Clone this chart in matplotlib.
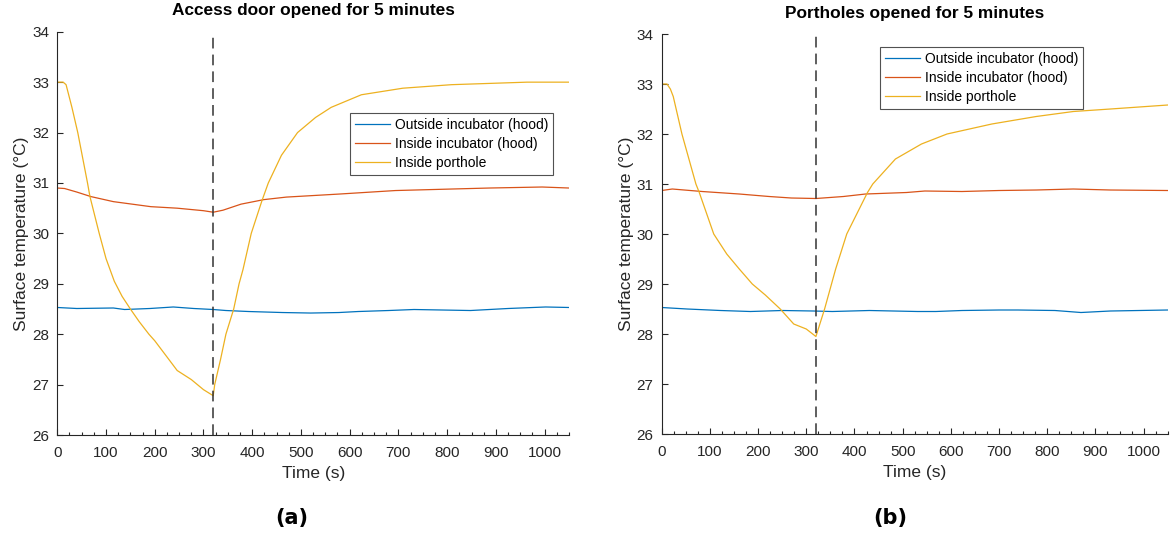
import matplotlib
matplotlib.use("Agg")
import matplotlib.pyplot as plt
from matplotlib.ticker import MultipleLocator

plt.rcParams["font.family"] = ["Liberation Sans", "DejaVu Sans"]

# ---- Panel (a): access door opened for 5 minutes ----
t_out_a = [0, 40, 115, 138, 190, 238, 280, 320, 346, 393, 462, 520, 578, 617, 680, 732, 790, 848, 925, 1002, 1050]
out_a = [28.53, 28.51, 28.52, 28.49, 28.51, 28.54, 28.51, 28.49, 28.47, 28.45, 28.43, 28.42, 28.43, 28.45,
         28.47, 28.49, 28.48, 28.47, 28.51, 28.54, 28.53]

t_in_a = [0, 15, 40, 69, 115, 192, 246, 300, 320, 340, 377, 424, 470, 578, 694, 809, 887, 995, 1050]
in_a = [30.9, 30.89, 30.82, 30.73, 30.63, 30.53, 30.5, 30.45, 30.42, 30.46, 30.58, 30.67, 30.72, 30.78,
        30.85, 30.88, 30.9, 30.92, 30.9]

t_port_a = [0, 12, 18, 30, 42, 62, 67, 86, 100, 117, 133, 150, 168, 188, 200, 225, 246, 275, 300, 320,
            323, 335, 346, 362, 373, 381, 398, 420, 433, 460, 493, 530, 562, 624, 709, 809, 964, 1050]
port_a = [33.0, 33.0, 32.95, 32.5, 32.0, 31.0, 30.73, 30.0, 29.5, 29.05, 28.75, 28.5, 28.25, 28.0, 27.87,
          27.55, 27.28, 27.1, 26.9, 26.78, 27.0, 27.5, 28.0, 28.5, 29.0, 29.28, 30.0, 30.65, 31.0, 31.55,
          32.0, 32.3, 32.5, 32.75, 32.88, 32.95, 33.0, 33.0]

# ---- Panel (b): portholes opened for 5 minutes ----
t_out_b = [0, 53, 122, 184, 250, 315, 354, 431, 531, 569, 623, 700, 739, 816, 870, 931, 1050]
out_b = [28.53, 28.5, 28.47, 28.45, 28.47, 28.46, 28.45, 28.47, 28.45, 28.45, 28.47, 28.48, 28.48,
         28.47, 28.43, 28.46, 28.48]

t_in_b = [0, 22, 84, 161, 223, 269, 320, 377, 423, 508, 546, 623, 700, 777, 854, 931, 1050]
in_b = [30.87, 30.9, 30.85, 30.8, 30.75, 30.72, 30.71, 30.75, 30.8, 30.83, 30.86, 30.85, 30.87, 30.88,
        30.9, 30.88, 30.87]

t_port_b = [0, 11, 18, 24, 42, 71, 78, 108, 135, 161, 188, 215, 246, 274, 300, 320,
            338, 361, 384, 427, 438, 485, 539, 592, 685, 777, 854, 931, 1050]
port_b = [33.0, 33.0, 32.9, 32.75, 32.0, 31.0, 30.83, 30.0, 29.6, 29.3, 29.0, 28.78, 28.5, 28.2, 28.1, 27.95,
          28.5, 29.3, 30.0, 30.83, 31.0, 31.5, 31.8, 32.0, 32.2, 32.35, 32.45, 32.5, 32.58]

event_time = 320
series_names = ["Outside incubator (hood)", "Inside incubator (hood)", "Inside porthole"]
titles = ["Access door opened for 5 minutes", "Portholes opened for 5 minutes"]
panel_tags = ["(a)", "(b)"]

colors = ["#0072BD", "#D95319", "#EDB120"]
axis_color = "#262626"

fig = plt.figure(figsize=(11.73, 5.39), dpi=100)
ax_a = fig.add_axes([0.04885, 0.1929, 0.4362, 0.7482])
ax_b = fig.add_axes([0.5641, 0.1948, 0.4314, 0.7421])

panels = [
    (ax_a, [(t_out_a, out_a), (t_in_a, in_a), (t_port_a, port_a)], (0.9693, 0.799), 1.052),
    (ax_b, [(t_out_b, out_b), (t_in_b, in_b), (t_port_b, port_b)], (0.833, 0.968), 1.052),
]

for i, (ax, series, legend_anchor, title_y) in enumerate(panels):
    handles = []
    for (t, y), c, name in zip(series, colors, series_names):
        h, = ax.plot(t, y, color=c, lw=0.9, label=name)
        handles.append(h)
    ax.axvline(event_time, color="#333333", lw=1.1, ls=(0, (7, 4)))
    ax.set_xlim(0, 1050)
    ax.set_ylim(26, 34)
    ax.xaxis.set_major_locator(MultipleLocator(100))
    ax.xaxis.set_minor_locator(MultipleLocator(25))
    ax.yaxis.set_major_locator(MultipleLocator(1))
    ax.spines["top"].set_visible(False)
    ax.spines["right"].set_visible(False)
    for s in ("left", "bottom"):
        ax.spines[s].set_color(axis_color)
        ax.spines[s].set_linewidth(0.8)
    ax.tick_params(axis="both", which="major", direction="in", length=4.5, width=0.8,
                   color=axis_color, labelcolor=axis_color, labelsize=11)
    ax.tick_params(axis="x", which="major", pad=8)
    ax.tick_params(axis="y", which="major", pad=6)
    ax.tick_params(axis="x", which="minor", direction="in", length=2.5, width=0.8, color=axis_color)
    ax.set_xlabel("Time (s)", fontsize=12.5, color=axis_color, labelpad=4)
    ax.set_ylabel("Surface temperature (°C)", fontsize=12.5, color=axis_color, labelpad=2)
    ax.text(0.5, title_y, titles[i], transform=ax.transAxes, ha="center", va="center",
            fontsize=12.4, fontweight="bold", color="black")
    leg = ax.legend(handles=handles, loc="upper right", bbox_to_anchor=legend_anchor,
                    fontsize=10, frameon=True, fancybox=False, handlelength=2.5,
                    handletextpad=0.35, labelspacing=0.35, borderpad=0.38, borderaxespad=0)
    leg.get_frame().set_edgecolor(axis_color)
    leg.get_frame().set_linewidth(0.8)
    for txt in leg.get_texts():
        txt.set_color("black")

fig.text(292 / 1173, 1 - 518 / 539, panel_tags[0], ha="center", va="center",
         fontsize=15, fontweight="bold", family="DejaVu Sans")
fig.text(890 / 1173, 1 - 518 / 539, panel_tags[1], ha="center", va="center",
         fontsize=15, fontweight="bold", family="DejaVu Sans")

fig.savefig("out.png", dpi=100)
